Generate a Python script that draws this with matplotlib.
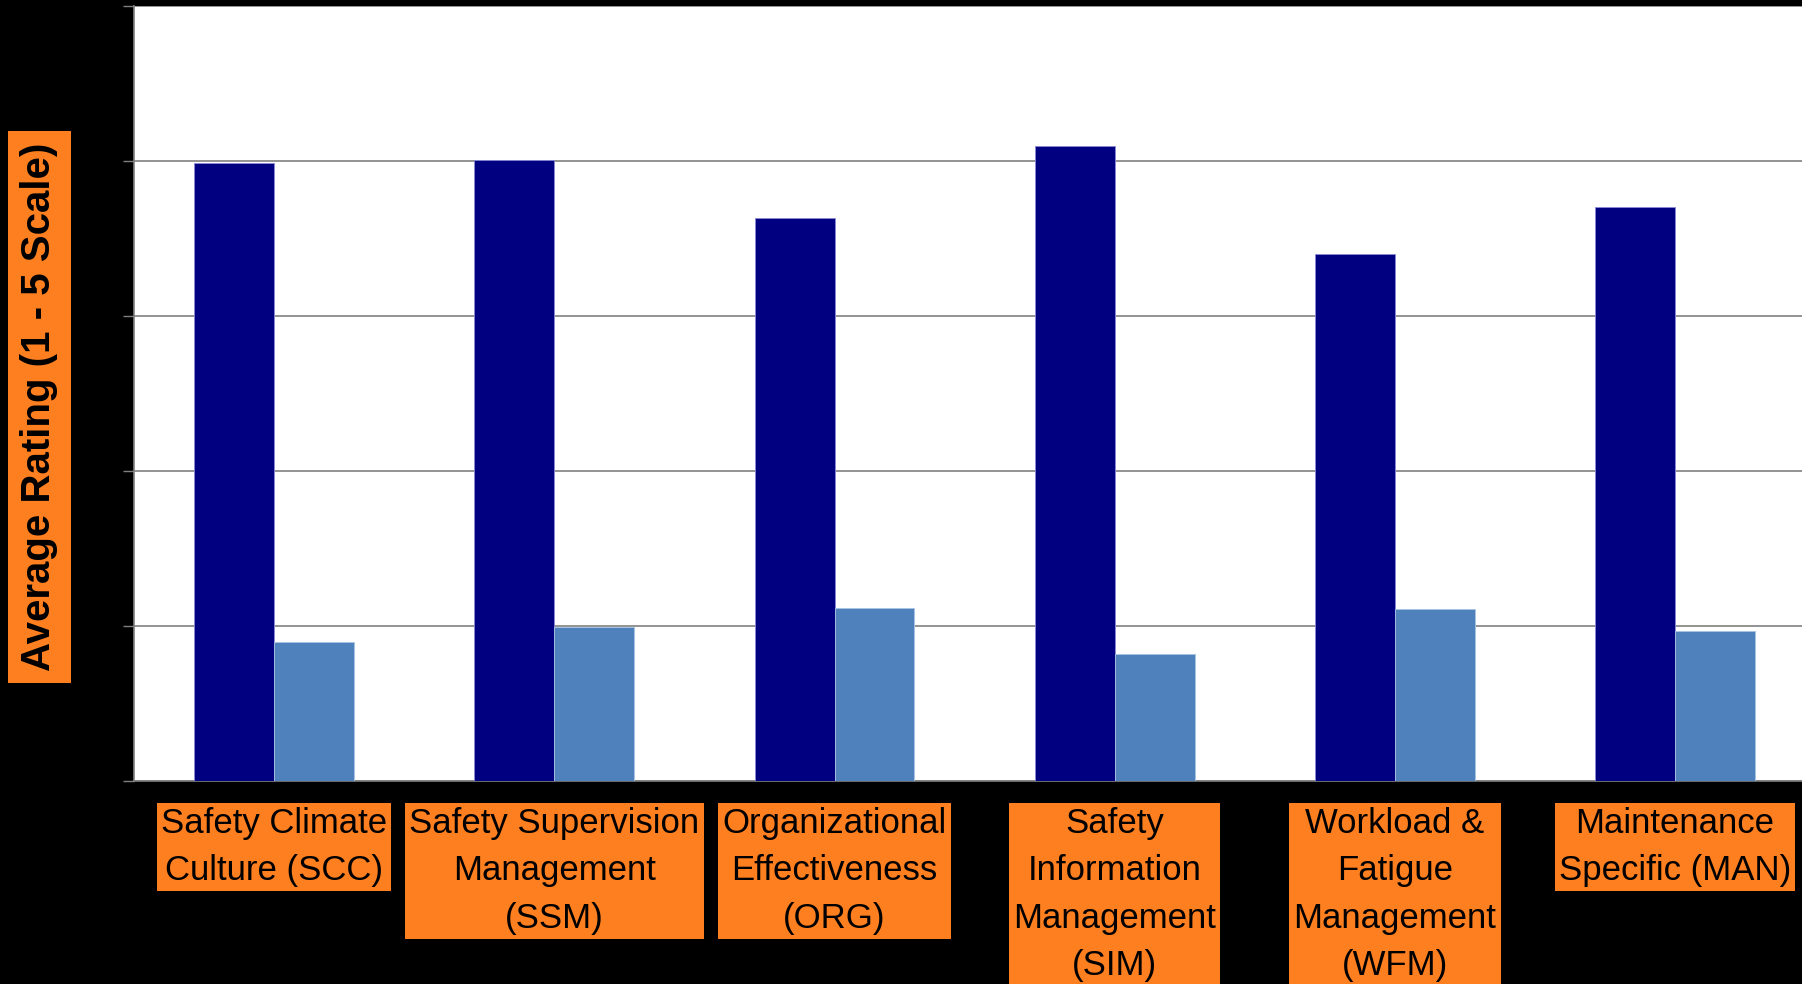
import matplotlib
matplotlib.use("Agg")
import matplotlib.pyplot as plt
from matplotlib import font_manager
import numpy as np

categories = [
    "Safety Climate\nCulture (SCC)",
    "Safety Supervision\nManagement\n(SSM)",
    "Organizational\nEffectiveness\n(ORG)",
    "Safety\nInformation\nManagement\n(SIM)",
    "Workload &\nFatigue\nManagement\n(WFM)",
    "Maintenance\nSpecific (MAN)",
]
series_dark = [3.985, 4.005, 3.635, 4.097, 3.40, 3.703]
series_light = [0.899, 0.995, 1.116, 0.821, 1.11, 0.97]
y_ticks = [0, 1, 2, 3, 4, 5]
y_label = "Average Rating (1 - 5 Scale)"

names = {f.name for f in font_manager.fontManager.ttflist}
label_font = "Liberation Sans Narrow" if "Liberation Sans Narrow" in names else "Liberation Sans"

W, H = 1802, 984
fig = plt.figure(figsize=(W / 100, H / 100), dpi=100, facecolor="black")
ax = fig.add_axes([134 / W, 1 - 781 / H, 1 - 134 / W, (781 - 6) / H])
ax.set_facecolor("white")

x = np.arange(len(categories))
bw = 0.285
ax.bar(x - bw / 2, series_dark, width=bw, color="#000080",
       edgecolor="#8c8cd8", linewidth=0.6, zorder=3)
ax.bar(x + bw / 2, series_light, width=bw, color="#4F81BD",
       edgecolor="#a8c4e4", linewidth=0.6, zorder=3)

cat_px = 280.2
ax.set_xlim(-0.5, -0.5 + (W - 134) / cat_px)
ax.set_ylim(0, 5)
ax.set_yticks(y_ticks)
ax.yaxis.grid(True, color="#808080", linewidth=1.2, zorder=0)
ax.set_axisbelow(True)
ax.tick_params(axis="y", direction="out", length=8, width=1.0,
               color="#808080", labelcolor="black", labelsize=14)
ax.set_xticks([])
for s in ["top", "right"]:
    ax.spines[s].set_visible(False)
for s in ["left", "bottom"]:
    ax.spines[s].set_color("#808080")
    ax.spines[s].set_linewidth(1.2)

# category labels in orange boxes
ytop = -26 / 775
for xi, lab in zip(x, categories):
    ax.text(xi, ytop, lab, transform=ax.get_xaxis_transform(),
            ha="center", va="top", multialignment="center",
            fontsize=25, family=label_font, color="black", linespacing=1.55,
            bbox=dict(boxstyle="square,pad=0.12", facecolor="#FD7F1F",
                      edgecolor="none"), clip_on=False)

fig.text(39.5 / W, 1 - 407 / H, y_label, rotation=90, ha="center", va="center",
         fontsize=29, fontweight="bold", family="Liberation Sans", color="black",
         bbox=dict(boxstyle="square,pad=0.3", facecolor="#FD7F1F",
                   edgecolor="none"))

fig.savefig("out.png", dpi=100, facecolor="black")
